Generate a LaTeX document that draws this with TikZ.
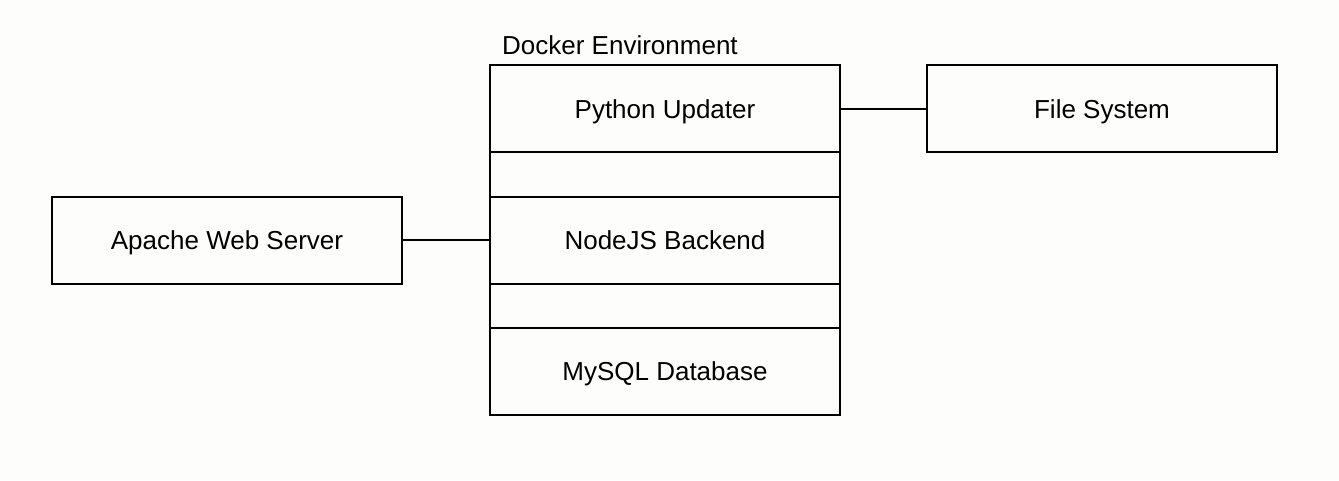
\documentclass[tikz,border=0pt]{standalone}
\usepackage{fontspec}
\setmainfont{Liberation Sans}
\usetikzlibrary{positioning}
\definecolor{bg}{RGB}{253,253,251}
\begin{document}
\begin{tikzpicture}[x=1pt,y=-1pt,
  comp/.style={draw=black,line width=2pt,minimum width=350pt,minimum height=87pt,inner sep=0pt,outer sep=0pt,text height=19pt,text depth=0pt,font=\fontsize{26}{30}\selectfont},
  conn/.style={draw=black,line width=2pt}]
\fill[bg] (0,0) rectangle (1339,480);
\useasboundingbox (0,0) rectangle (1339,480);
\node[comp] (py) at (665,108.5) {Python Updater};
\node[comp] (node) at (665,240) {NodeJS Backend};
\node[comp] (db) at (665,371) {MySQL Database};
\node[comp] (apache) at (227,240) {Apache Web Server};
\node[comp] (fs) at (1102,108.5) {File System};
\draw[line width=2pt] (py.north west) rectangle (db.south east);
\node[anchor=base west,font=\fontsize{26}{30}\selectfont,inner sep=0pt] (label) at (502,54) {Docker Environment};
\draw[conn] (apache.east) -- (node.west);
\draw[conn] (py.east) -- (fs.west);
\end{tikzpicture}
\end{document}
